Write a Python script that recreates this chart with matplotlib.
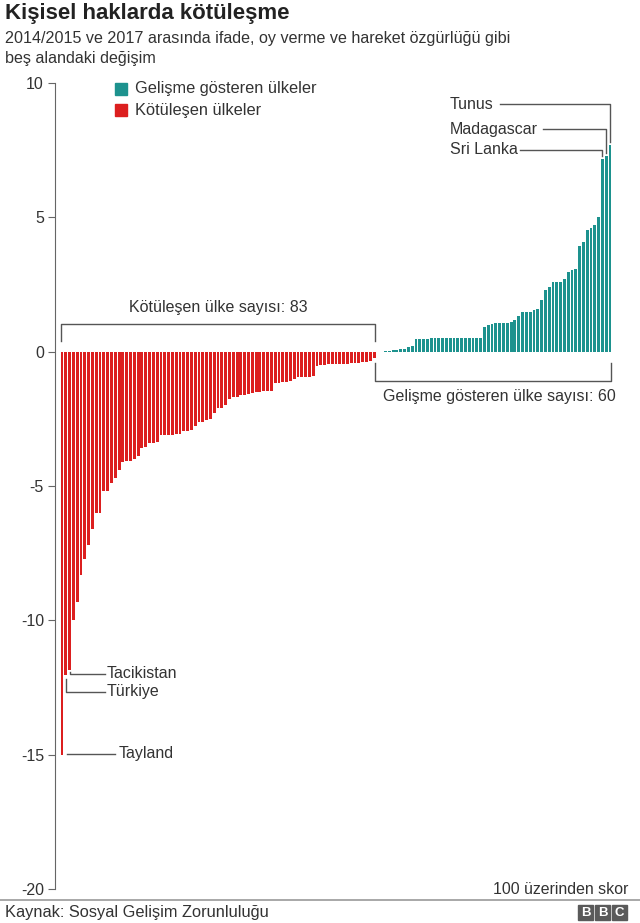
import matplotlib.pyplot as plt
from matplotlib.patches import Rectangle
from matplotlib.lines import Line2D
import numpy as np

plt.rcParams['font.family'] = ['Liberation Sans', 'DejaVu Sans']

# change in score (out of 100), sorted
worse = [-15.0, -12.05, -11.85, -10.0, -9.3, -8.3, -7.7, -7.2, -6.6, -6.0,
         -6.0, -5.2, -5.2, -4.9, -4.7, -4.4, -4.1, -4.06, -4.06, -4.0,
         -3.9, -3.6, -3.55, -3.4, -3.4, -3.35, -3.1, -3.1, -3.1, -3.1,
         -3.08, -3.05, -2.95, -2.95, -2.9, -2.76, -2.6, -2.6, -2.55, -2.5,
         -2.3, -2.1, -2.08, -2.0, -1.75, -1.7, -1.7, -1.6, -1.6, -1.58,
         -1.55, -1.5, -1.5, -1.48, -1.45, -1.45, -1.15, -1.15, -1.14, -1.12,
         -1.1, -1.0, -0.96, -0.95, -0.95, -0.94, -0.9, -0.55, -0.5, -0.48,
         -0.47, -0.46, -0.46, -0.45, -0.45, -0.45, -0.44, -0.43, -0.42, -0.4,
         -0.38, -0.35, -0.25]
better = [0.03, 0.04, 0.06, 0.07, 0.1, 0.11, 0.16, 0.22, 0.47, 0.47,
          0.48, 0.48, 0.52, 0.52, 0.52, 0.52, 0.52, 0.52, 0.52, 0.52,
          0.52, 0.52, 0.52, 0.52, 0.52, 0.52, 0.93, 1.0, 1.04, 1.05,
          1.06, 1.06, 1.07, 1.09, 1.18, 1.34, 1.46, 1.47, 1.48, 1.56,
          1.57, 1.92, 2.3, 2.42, 2.58, 2.58, 2.6, 2.7, 2.95, 3.04,
          3.06, 3.95, 4.1, 4.53, 4.6, 4.7, 5.03, 7.17, 7.27, 7.7]
yticks = [10, 5, 0, -5, -10, -15, -20]

red = '#dc1f1f'
teal = '#1d928e'
txt = '#333333'
line_c = '#555555'
fs = 11.5

x_worse = np.arange(len(worse))
x_better = np.arange(len(better)) + len(worse) + 2

fig = plt.figure(figsize=(6.4, 9.23), dpi=100)
ax = fig.add_axes([55/640, 34/923, 560/640, 806/923])
ax.bar(x_worse, worse, width=0.75, color=red)
ax.bar(x_better, better, width=0.75, color=teal)
ax.set_ylim(-20, 10)
ax.set_xlim(-1.84, 145.3)
ax.set_yticks(yticks)
ax.set_yticklabels([str(t) for t in yticks])
ax.set_xticks([])
for s in ['top', 'right', 'bottom']:
    ax.spines[s].set_visible(False)
ax.spines['left'].set_color('#666666')
ax.tick_params(axis='y', length=5, color='#666666', labelsize=11.5, labelcolor=txt, pad=3)

# brackets with counts
ax.plot([x_worse[0] - 0.2, x_worse[0] - 0.2, x_worse[-1] + 0.2, x_worse[-1] + 0.2],
        [0.41, 1.04, 1.04, 0.41], color=line_c, lw=1)
ax.text(41, 1.64, 'Kötüleşen ülke sayısı: 83', ha='center', va='center', fontsize=fs, color=txt)
ax.plot([82.2, 82.2, x_better[-1] + 0.2, x_better[-1] + 0.2],
        [-0.41, -1.08, -1.08, -0.41], color=line_c, lw=1)
ax.text(114.8, -1.68, 'Gelişme gösteren ülke sayısı: 60', ha='center', va='center', fontsize=fs, color=txt)

# labels, positive end
for j, name, ly, lx in [(59, 'Tunus', 9.2, 115.1), (58, 'Madagascar', 8.27, 126.4),
                        (57, 'Sri Lanka', 7.52, 120.3)]:
    bx = x_better[j]
    ax.plot([lx, bx, bx], [ly, ly, better[j] + 0.12], color=line_c, lw=1)
    ax.text(101.9, ly, name, ha='left', va='center', fontsize=fs, color=txt)

# labels, negative end
ax.plot([x_worse[2], x_worse[2], 11.3], [worse[2] - 0.08, -11.98, -11.98], color=line_c, lw=1)
ax.text(11.8, -11.98, 'Tacikistan', ha='left', va='center', fontsize=fs, color=txt)
ax.plot([x_worse[1], x_worse[1], 11.3], [worse[1] - 0.12, -12.65, -12.65], color=line_c, lw=1)
ax.text(11.8, -12.65, 'Türkiye', ha='left', va='center', fontsize=fs, color=txt)
ax.plot([1.3, 13.9], [-14.97, -14.97], color=line_c, lw=1)
ax.text(15.0, -14.97, 'Tayland', ha='left', va='center', fontsize=fs, color=txt)

# legend
fig.add_artist(Rectangle((115/640, (923-95)/923), 12/640, 12/923, color=teal, transform=fig.transFigure))
fig.text(135/640, (923-89)/923, 'Gelişme gösteren ülkeler', ha='left', va='center', fontsize=11.8, color=txt)
fig.add_artist(Rectangle((115/640, (923-116)/923), 12/640, 12/923, color=red, transform=fig.transFigure))
fig.text(135/640, (923-110)/923, 'Kötüleşen ülkeler', ha='left', va='center', fontsize=11.8, color=txt)

# titles
fig.text(5/640, 1 - 13/923, 'Kişisel haklarda kötüleşme', ha='left', va='center',
         fontsize=16, fontweight='bold', color='#222222')
fig.text(5/640, 1 - 38/923, '2014/2015 ve 2017 arasında ifade, oy verme ve hareket özgürlüğü gibi',
         ha='left', va='center', fontsize=11.6, color=txt)
fig.text(5/640, 1 - 58/923, 'beş alandaki değişim', ha='left', va='center', fontsize=11.6, color=txt)

# footer
fig.text(628/640, (923-889)/923, '100 üzerinden skor', ha='right', va='center', fontsize=11.4, color=txt)
fig.add_artist(Line2D([0, 1], [23/923, 23/923], color='#999999', lw=1.2, transform=fig.transFigure))
fig.text(5/640, (923-912)/923, 'Kaynak: Sosyal Gelişim Zorunluluğu', ha='left', va='center',
         fontsize=11.8, color=txt)
for k, letter in enumerate('BBC'):
    x0 = 578 + k * 17
    fig.add_artist(Rectangle((x0/640, (923-920)/923), 15/640, 15/923, color='#5a5a5a',
                             transform=fig.transFigure))
    fig.text((x0 + 7.5)/640, (923-912.5)/923, letter, ha='center', va='center',
             fontsize=9.5, fontweight='bold', color='white')

fig.savefig('out.png', dpi=100)
